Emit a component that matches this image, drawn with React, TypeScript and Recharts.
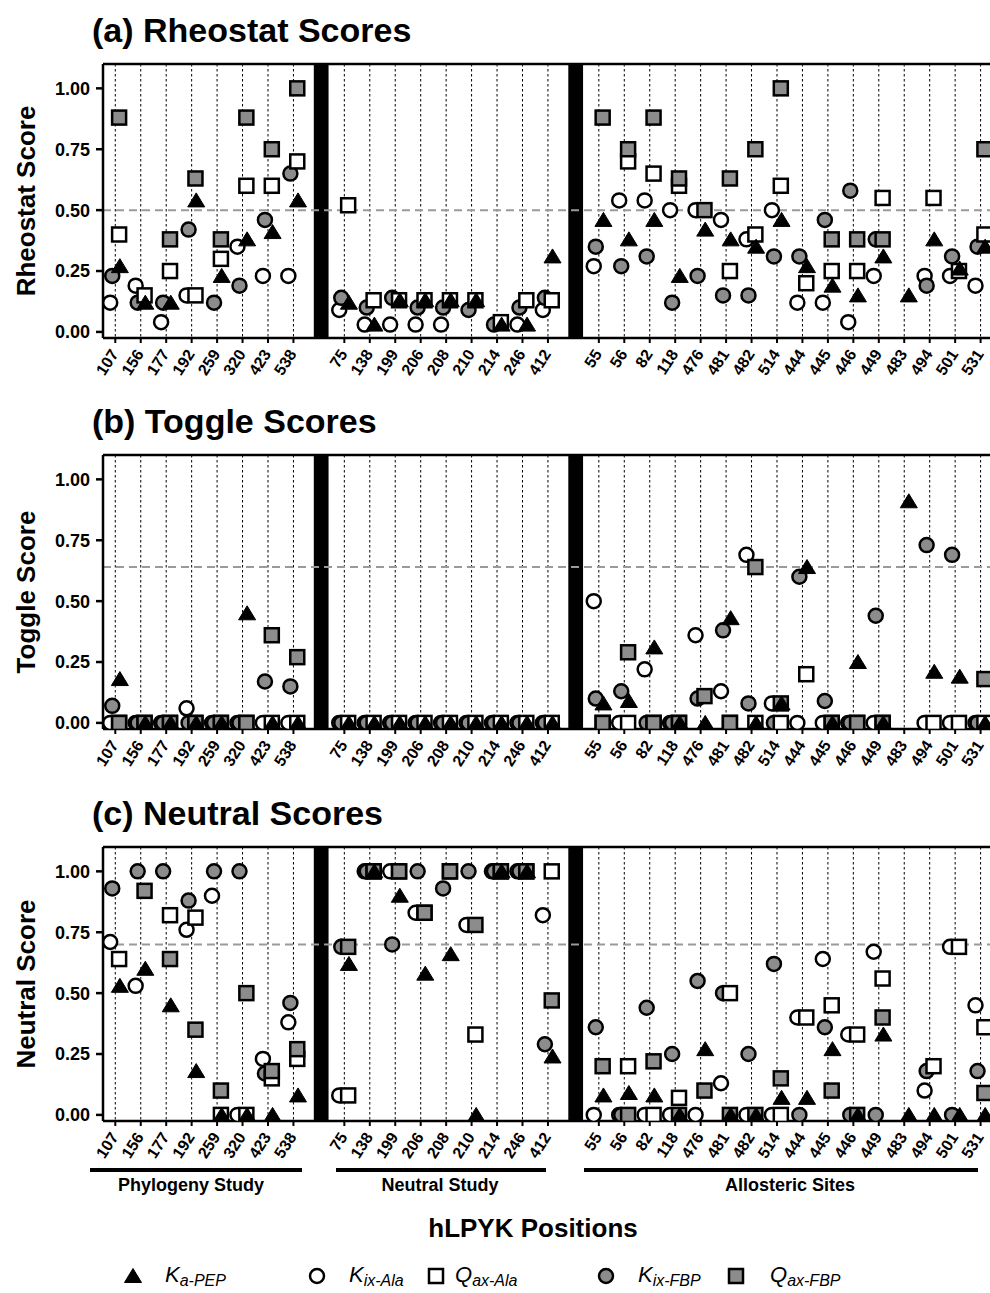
import React from 'react';
import {
  ScatterChart,
  Scatter,
  XAxis,
  YAxis,
  CartesianGrid,
  ReferenceLine,
  ReferenceArea,
} from 'recharts';

const FONT = "'Liberation Sans', Arial, Helvetica, sans-serif";
const GRAY = '#8c8c8c';

// ---- categories ----
const phylogenyPositions = ['107', '156', '177', '192', '259', '320', '423', '538'];
const neutralPositions = ['75', '138', '199', '206', '208', '210', '214', '246', '412'];
const allostericPositions = ['55', '56', '82', '118', '476', '481', '482', '514', '444', '445', '446', '449', '483', '494', '501', '531'];
const groupNames = ['Phylogeny Study', 'Neutral Study', 'Allosteric Sites'];
const yTicks = [0, 0.25, 0.5, 0.75, 1];

// ---- (a) Rheostat scores ----
const rheoKaPEP = [0.27, 0.12, 0.12, 0.54, 0.23, 0.38, 0.41, 0.54, 0.12, 0.03, 0.13, 0.13, 0.13, 0.13, 0.03, 0.03, 0.31, 0.46, 0.38, 0.46, 0.23, 0.42, 0.38, 0.35, 0.46, 0.27, 0.19, 0.15, 0.31, 0.15, 0.38, 0.26, 0.35];
const rheoKixAla = [0.12, 0.19, 0.04, 0.15, null, 0.35, 0.23, 0.23, 0.09, 0.03, 0.03, 0.03, 0.03, null, null, 0.03, 0.09, 0.27, 0.54, 0.54, 0.50, 0.50, 0.46, 0.38, 0.50, 0.12, 0.12, 0.04, 0.23, null, 0.23, 0.23, 0.19];
const rheoQaxAla = [0.40, 0.15, 0.25, 0.15, 0.30, 0.60, 0.60, 0.70, 0.52, 0.13, 0.13, 0.13, 0.13, 0.13, 0.04, 0.13, 0.13, null, 0.70, 0.65, 0.60, null, 0.25, 0.40, 0.60, 0.20, 0.25, 0.25, 0.55, null, 0.55, 0.25, 0.40];
const rheoKixFBP = [0.23, 0.12, 0.12, 0.42, 0.12, 0.19, 0.46, 0.65, 0.14, 0.10, 0.14, 0.10, 0.10, 0.09, 0.03, 0.10, 0.14, 0.35, 0.27, 0.31, 0.12, 0.23, 0.15, 0.15, 0.31, 0.31, 0.46, 0.58, 0.38, null, 0.19, 0.31, 0.35];
const rheoQaxFBP = [0.88, null, 0.38, 0.63, 0.38, 0.88, 0.75, 1.00, null, null, null, null, null, null, null, null, null, 0.88, 0.75, 0.88, 0.63, 0.50, 0.63, 0.75, 1.00, null, 0.38, 0.38, 0.38, null, null, null, 0.75];

// ---- (b) Toggle scores ----
const togKaPEP = [0.18, 0, 0, 0, 0, 0.45, 0, 0, 0, 0, 0, 0, 0, 0, 0, 0, 0, 0.08, 0.09, 0.31, 0, 0, 0.43, 0, 0.08, 0.64, 0, 0.25, 0, 0.91, 0.21, 0.19, 0];
const togKixAla = [0, 0, 0, 0.06, 0, 0, 0, 0, 0, 0, 0, 0, 0, 0, 0, 0, 0, 0.50, 0, 0.22, 0, 0.36, 0.13, 0.69, 0.08, 0, 0, 0, 0, null, 0, 0, 0];
const togQaxAla = [0, 0, 0, 0, 0, 0, 0, 0, 0, 0, 0, 0, 0, 0, 0, 0, 0, 0, 0, 0, 0, null, 0, 0, 0, 0.20, 0, 0, 0, null, 0, 0, 0];
const togKixFBP = [0.07, 0, 0, 0, 0, 0, 0.17, 0.15, 0, 0, 0, 0, 0, 0, 0, 0, 0, 0.10, 0.13, 0, 0, 0.10, 0.38, 0.08, 0, 0.60, 0.09, 0, 0.44, null, 0.73, 0.69, 0];
const togQaxFBP = [0, 0, 0, 0, 0, 0, 0.36, 0.27, null, null, null, null, null, null, null, null, null, 0, 0.29, 0, 0, 0.11, 0, 0.64, 0.08, null, 0, 0, 0, null, null, null, 0.18];

// ---- (c) Neutral scores ----
const neuKaPEP = [0.53, 0.60, 0.45, 0.18, 0, 0, 0, 0.08, 0.62, 1.00, 0.90, 0.58, 0.66, 0, 1.00, 1.00, 0.24, 0.08, 0.09, 0.08, 0, 0.27, 0, 0, 0.07, 0.07, 0.27, 0, 0.33, 0, 0, 0, 0];
const neuKixAla = [0.71, 0.53, null, 0.76, 0.90, 0, 0.23, 0.38, 0.08, 1.00, 1.00, 0.83, null, 0.78, 1.00, 1.00, 0.82, 0, 0, 0, 0, 0, 0.13, 0, 0, 0.40, 0.64, 0.33, 0.67, null, 0.10, 0.69, 0.45];
const neuQaxAla = [0.64, null, 0.82, 0.81, 0, 0, 0.15, 0.23, 0.08, 1.00, 1.00, 0.83, 1.00, 0.33, 1.00, 1.00, 1.00, null, 0.20, 0, 0.07, null, 0.50, null, 0, 0.40, 0.45, 0.33, 0.56, null, 0.20, 0.69, 0.36];
const neuKixFBP = [0.93, 1.00, 1.00, 0.88, 1.00, 1.00, 0.17, 0.46, 0.69, 1.00, 0.70, 1.00, 0.93, 1.00, 1.00, 1.00, 0.29, 0.36, 0, 0.44, 0.25, 0.55, 0.50, 0.25, 0.62, 0, 0.36, 0, 0, null, 0.18, 0, 0.18];
const neuQaxFBP = [null, 0.92, 0.64, 0.35, 0.10, 0.50, 0.18, 0.27, 0.69, 1.00, 1.00, 0.83, 1.00, 0.78, 1.00, 1.00, 0.47, 0.20, 0, 0.22, 0, 0.10, 0, 0, 0.15, null, 0.10, 0, 0.40, null, null, null, 0.09];

// ---- layout helpers (slots on a numeric axis; gaps hold the separators) ----
const slots = [
  ...phylogenyPositions.map((_, i) => i),
  ...neutralPositions.map((_, i) => 9 + i),
  ...allostericPositions.map((_, i) => 19 + i),
];
const positionLabels = [...phylogenyPositions, ...neutralPositions, ...allostericPositions];
const labelBySlot: Record<number, string> = {};
slots.forEach((s, i) => {
  labelBySlot[s] = positionLabels[i];
});
const separators: [number, number][] = [
  [7.8, 8.38],
  [17.8, 18.38],
];

const CHART_W = 1040;
const Y_AXIS_W = 103;
const SLOT_PX = 25.45;
const X_MIN = -0.483;
const X_MAX = X_MIN + (CHART_W - Y_AXIS_W) / SLOT_PX;
const PLOT_H = 274;
const M_TOP = 20;
const X_AXIS_H = 60;
const CHART_H = M_TOP + PLOT_H + X_AXIS_H;

function toPoints(values: (number | null)[], offset: number) {
  const out: { x: number; y: number }[] = [];
  values.forEach((v, i) => {
    if (v !== null && v !== undefined) out.push({ x: slots[i] + offset, y: v });
  });
  return out;
}

// ---- marker shapes ----
const TriangleShape = (p: any) => (
  <polygon
    points={`${p.cx},${p.cy - 7.5} ${p.cx + 8.5},${p.cy + 6.5} ${p.cx - 8.5},${p.cy + 6.5}`}
    fill="#000"
    stroke="#000"
    strokeWidth={1}
  />
);
const OpenCircleShape = (p: any) => (
  <circle cx={p.cx} cy={p.cy} r={7} fill="#fff" stroke="#000" strokeWidth={2.5} />
);
const GrayCircleShape = (p: any) => (
  <circle cx={p.cx} cy={p.cy} r={7} fill={GRAY} stroke="#000" strokeWidth={2.5} />
);
const OpenSquareShape = (p: any) => (
  <rect x={p.cx - 7} y={p.cy - 7} width={14} height={14} fill="#fff" stroke="#000" strokeWidth={2.5} />
);
const GraySquareShape = (p: any) => (
  <rect x={p.cx - 7} y={p.cy - 7} width={14} height={14} fill={GRAY} stroke="#000" strokeWidth={2.5} />
);

const XTick = (props: any) => {
  const { x, y, payload } = props;
  const label = labelBySlot[payload.value];
  return (
    <g transform={`translate(${x - 1},${y + 6})`}>
      <text
        textAnchor="end"
        transform="rotate(-57)"
        dy="0.35em"
        fontSize={16}
        fontWeight="bold"
        fontFamily={FONT}
        fill="#000"
      >
        {label}
      </text>
    </g>
  );
};

const YLabel = ({ text }: { text: string }) => (
  <text
    x={26}
    y={M_TOP + PLOT_H / 2}
    transform={`rotate(-90, 26, ${M_TOP + PLOT_H / 2})`}
    textAnchor="middle"
    dominantBaseline="central"
    fontSize={26}
    fontWeight="bold"
    fontFamily={FONT}
    fill="#000"
  >
    {text}
  </text>
);

type PanelProps = {
  top: number;
  yLabel: string;
  threshold: number;
  kaPEP: (number | null)[];
  kixAla: (number | null)[];
  qaxAla: (number | null)[];
  kixFBP: (number | null)[];
  qaxFBP: (number | null)[];
};

function Panel({ top, yLabel, threshold, kaPEP, kixAla, qaxAla, kixFBP, qaxFBP }: PanelProps) {
  return (
    <div style={{ position: 'absolute', left: 0, top, width: CHART_W, height: CHART_H }}>
      <ScatterChart width={CHART_W} height={CHART_H} margin={{ top: M_TOP, right: 0, bottom: 0, left: 0 }}>
        <CartesianGrid horizontal={false} stroke="#000" strokeDasharray="2.5 2.5" strokeWidth={1} />
        <XAxis
          type="number"
          dataKey="x"
          domain={[X_MIN, X_MAX]}
          allowDataOverflow
          ticks={slots}
          interval={0}
          tick={<XTick />}
          tickSize={5}
          tickLine={{ stroke: '#000', strokeWidth: 2 }}
          axisLine={{ stroke: '#000', strokeWidth: 2.5 }}
          height={X_AXIS_H}
        />
        <YAxis
          type="number"
          dataKey="y"
          domain={[-0.025, 1.1]}
          allowDataOverflow
          ticks={yTicks}
          interval={0}
          tickFormatter={(v: number) => v.toFixed(2)}
          width={Y_AXIS_W}
          tickSize={7}
          tickMargin={6}
          tick={{ fill: '#000', fontSize: 18, fontWeight: 'bold', fontFamily: FONT }}
          tickLine={{ stroke: '#000', strokeWidth: 2.5 }}
          axisLine={{ stroke: '#000', strokeWidth: 2.5 }}
          label={<YLabel text={yLabel} />}
        />
        <ReferenceLine y={threshold} stroke="#9a9a9a" strokeWidth={2} strokeDasharray="8 5" />
        {separators.map(([a, b]) => (
          <ReferenceArea key={a} x1={a} x2={b} fill="#000" fillOpacity={1} stroke="none" />
        ))}
        <ReferenceLine y={1.1} stroke="#000" strokeWidth={2.5} />
        <Scatter data={toPoints(kixAla, -0.2)} shape={OpenCircleShape} isAnimationActive={false} />
        <Scatter data={toPoints(kixFBP, -0.12)} shape={GrayCircleShape} isAnimationActive={false} />
        <Scatter data={toPoints(qaxAla, 0.15)} shape={OpenSquareShape} isAnimationActive={false} />
        <Scatter data={toPoints(qaxFBP, 0.15)} shape={GraySquareShape} isAnimationActive={false} />
        <Scatter data={toPoints(kaPEP, 0.18)} shape={TriangleShape} isAnimationActive={false} />
      </ScatterChart>
    </div>
  );
}

const titleStyle = { fontSize: 34, fontWeight: 'bold' as const, fontFamily: FONT, fill: '#000' };

const LEGEND_CY = 1276;

function LegendItem({ x, marker, main, sub }: { x: number; marker: string; main: string; sub: string }) {
  const cy = LEGEND_CY;
  let m: React.ReactNode = null;
  if (marker === 'tri') m = <TriangleShape cx={x} cy={cy} />;
  if (marker === 'oc') m = <OpenCircleShape cx={x} cy={cy} />;
  if (marker === 'gc') m = <GrayCircleShape cx={x} cy={cy} />;
  if (marker === 'os') m = <OpenSquareShape cx={x} cy={cy} />;
  if (marker === 'gs') m = <GraySquareShape cx={x} cy={cy} />;
  return (
    <g>
      {m}
      <text x={x + (marker === 'os' ? 19 : marker === 'gs' ? 34 : 32)} y={cy + 6} fontSize={22} fontStyle="italic" fontFamily={FONT} fill="#000">
        {main}
        <tspan fontSize={16} dy={4}>
          {sub}
        </tspan>
      </text>
    </g>
  );
}

export default function App() {
  return (
    <div style={{ position: 'absolute', left: 0, top: 0, width: 990, height: 1293, overflow: 'hidden', background: '#fff' }}>
      <Panel top={44} yLabel="Rheostat Score" threshold={0.5} kaPEP={rheoKaPEP} kixAla={rheoKixAla} qaxAla={rheoQaxAla} kixFBP={rheoKixFBP} qaxFBP={rheoQaxFBP} />
      <Panel top={435} yLabel="Toggle Score" threshold={0.64} kaPEP={togKaPEP} kixAla={togKixAla} qaxAla={togQaxAla} kixFBP={togKixFBP} qaxFBP={togQaxFBP} />
      <Panel top={827} yLabel="Neutral Score" threshold={0.7} kaPEP={neuKaPEP} kixAla={neuKixAla} qaxAla={neuQaxAla} kixFBP={neuKixFBP} qaxFBP={neuQaxFBP} />
      <svg width={990} height={1293} style={{ position: 'absolute', left: 0, top: 0, pointerEvents: 'none' }}>
        <text x={92} y={42} {...titleStyle}>(a) Rheostat Scores</text>
        <text x={92} y={433} {...titleStyle}>(b) Toggle Scores</text>
        <text x={92} y={825} {...titleStyle}>(c) Neutral Scores</text>

        <line x1={90} x2={302} y1={1170} y2={1170} stroke="#000" strokeWidth={4} />
        <line x1={336} x2={546} y1={1170} y2={1170} stroke="#000" strokeWidth={4} />
        <line x1={584} x2={978} y1={1170} y2={1170} stroke="#000" strokeWidth={4} />
        <text x={191} y={1191} textAnchor="middle" fontSize={18} fontWeight="bold" fontFamily={FONT}>{groupNames[0]}</text>
        <text x={440} y={1191} textAnchor="middle" fontSize={18} fontWeight="bold" fontFamily={FONT}>{groupNames[1]}</text>
        <text x={790} y={1191} textAnchor="middle" fontSize={18} fontWeight="bold" fontFamily={FONT}>{groupNames[2]}</text>

        <text x={533} y={1237} textAnchor="middle" fontSize={26} fontWeight="bold" fontFamily={FONT}>hLPYK Positions</text>

        <LegendItem x={133} marker="tri" main="K" sub="a-PEP" />
        <LegendItem x={317} marker="oc" main="K" sub="ix-Ala" />
        <LegendItem x={436} marker="os" main="Q" sub="ax-Ala" />
        <LegendItem x={606} marker="gc" main="K" sub="ix-FBP" />
        <LegendItem x={736} marker="gs" main="Q" sub="ax-FBP" />
      </svg>
    </div>
  );
}
